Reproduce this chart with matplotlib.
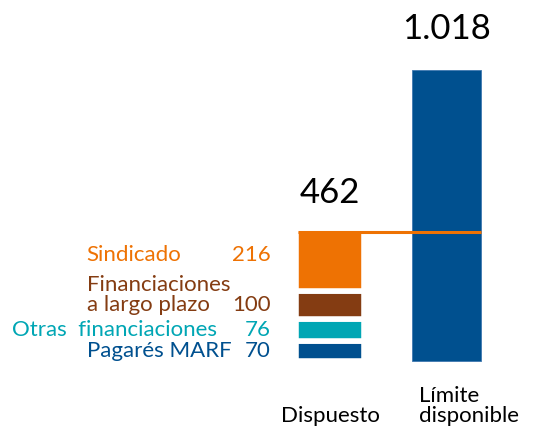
import matplotlib
matplotlib.use("Agg")
import matplotlib.pyplot as plt
import matplotlib.transforms as mtransforms
import numpy as np

plt.rcParams['font.family'] = ['Lato', 'DejaVu Sans']

# data (millones de euros)
categories = ['Dispuesto', 'Límite\ndisponible']
segment_labels = ['Pagarés MARF', 'Otras  financiaciones', 'Financiaciones\na largo plazo', 'Sindicado']
segment_values = [70, 76, 100, 216]
limit_value = 1018
total_labels = ['462', '1.018']

segment_colors = ['#00508F', '#00A6B4', '#843C12', '#EE7203']
limit_color = '#00508F'

fig = plt.figure(figsize=(5.33, 4.29), dpi=100)
ax = fig.add_axes([0, 0, 1, 1])
ax.set_xlim(-2.833, 1.742)
ax.set_ylim(-238, 1263)
ax.axis('off')

width = 0.59
fs = 16
bottoms = np.concatenate([[0], np.cumsum(segment_values)[:-1]])
total = sum(segment_values)

# stacked "Dispuesto" bar, white edges make the gaps
ax.bar(np.zeros(len(segment_values)), segment_values, width, bottom=bottoms,
       color=segment_colors, edgecolor='white', linewidth=4, zorder=3)
# "Limite disponible"
ax.bar(1, limit_value, width, color=limit_color, edgecolor='#3f78b0', linewidth=0.6, zorder=2)

# orange line at the level of the total drawn
line_tr = mtransforms.offset_copy(ax.transData, fig=fig, x=0, y=-2, units='points')
ax.plot([0 - width / 2 + 0.02, 1 + width / 2], [total, total], color='#EE7203', lw=2.2,
        transform=line_tr, zorder=4, solid_capstyle='butt')

# totals above bars
ax.annotate(total_labels[0], (0, total), xytext=(0, 19), textcoords='offset points',
            ha='center', va='baseline', fontsize=25, color='black')
ax.annotate(total_labels[1], (1, limit_value), xytext=(0, 22), textcoords='offset points',
            ha='center', va='baseline', fontsize=25, color='black')

# segment labels on the left
text_x = -2.09
for lab, val, b, col in zip(segment_labels, segment_values, bottoms, segment_colors):
    yc = b + val / 2
    dy = -1 if lab == 'Sindicado' else -4
    ax.annotate(str(val), (-width / 2, yc), xytext=(-18, dy), textcoords='offset points',
                ha='right', va='baseline', fontsize=fs, color=col)
    if lab.startswith('Otras'):
        ax.annotate(lab, (-0.97, yc), xytext=(0, dy), textcoords='offset points',
                    ha='right', va='baseline', fontsize=fs, color=col)
    else:
        ax.annotate(lab, (text_x, yc), xytext=(0, dy), textcoords='offset points',
                    ha='left', va='baseline', fontsize=fs, color=col, linespacing=1.0)

# category labels
ax.text(0, -215, categories[0], ha='center', va='baseline', fontsize=fs, color='black')
ax.text(0.76, -215, categories[1], ha='left', va='baseline', fontsize=fs, color='black',
        linespacing=1.0)

fig.savefig('out.png', dpi=100)
